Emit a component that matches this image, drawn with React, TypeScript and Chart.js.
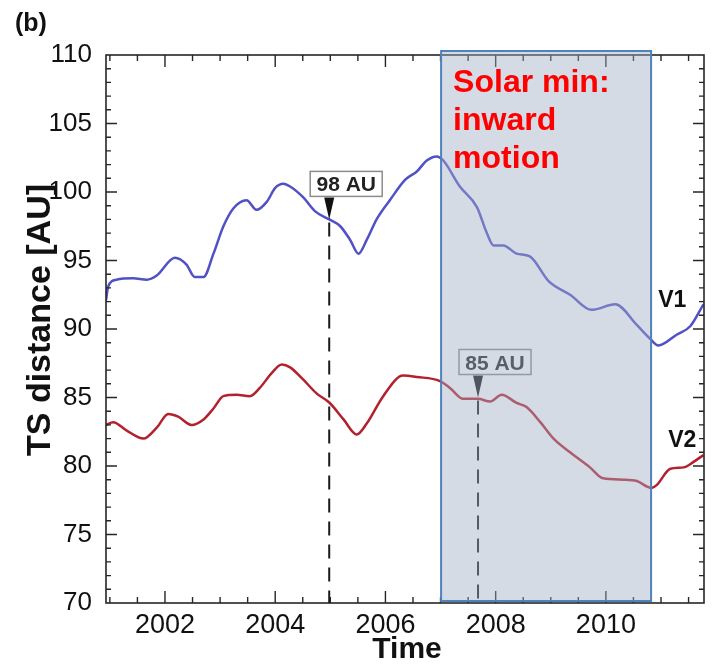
import React, { useEffect, useRef } from 'react';
import { Chart, registerables } from 'chart.js';

Chart.register(...registerables);

// Termination-shock distance of the two Voyagers (years, AU)
const v1Years = [2000.93, 2000.97, 2001.12, 2001.42, 2001.67, 2001.85, 2002.18, 2002.39, 2002.54, 2002.7, 2002.88, 2003.06, 2003.24, 2003.48, 2003.66, 2003.85, 2004.0, 2004.15, 2004.27, 2004.51, 2004.72, 2004.98, 2005.18, 2005.36, 2005.51, 2005.66, 2005.84, 2006.08, 2006.36, 2006.57, 2006.75, 2006.93, 2007.05, 2007.35, 2007.66, 2007.84, 2007.96, 2008.14, 2008.38, 2008.62, 2008.96, 2009.35, 2009.74, 2010.17, 2010.56, 2010.8, 2010.95, 2011.29, 2011.53, 2011.77];
const v1Values = [92.1, 93.1, 93.6, 93.7, 93.6, 93.9, 95.2, 94.7, 93.8, 93.8, 95.5, 97.5, 98.8, 99.4, 98.7, 99.3, 100.3, 100.6, 100.4, 99.6, 98.6, 98.0, 97.5, 96.5, 95.5, 96.5, 98.0, 99.4, 100.9, 101.5, 102.3, 102.6, 102.3, 100.4, 98.9, 97.0, 96.1, 96.1, 95.5, 95.3, 93.5, 92.5, 91.4, 91.8, 90.3, 89.3, 88.8, 89.6, 90.2, 91.8];

const v2Years = [2000.93, 2001.06, 2001.3, 2001.61, 2001.85, 2002.06, 2002.24, 2002.48, 2002.7, 2002.88, 2003.06, 2003.3, 2003.54, 2003.72, 2003.94, 2004.12, 2004.27, 2004.51, 2004.75, 2004.99, 2005.24, 2005.48, 2005.66, 2005.96, 2006.32, 2006.57, 2006.99, 2007.17, 2007.41, 2007.68, 2007.9, 2008.11, 2008.38, 2008.56, 2008.81, 2009.05, 2009.35, 2009.71, 2009.95, 2010.32, 2010.56, 2010.83, 2010.92, 2011.17, 2011.41, 2011.59, 2011.77];
const v2Values = [83.0, 83.2, 82.6, 82.0, 82.8, 83.8, 83.6, 83.0, 83.4, 84.2, 85.1, 85.2, 85.1, 85.7, 86.8, 87.4, 87.2, 86.3, 85.3, 84.6, 83.4, 82.3, 83.1, 85.1, 86.6, 86.5, 86.2, 85.7, 84.9, 84.9, 84.7, 85.2, 84.6, 84.3, 83.2, 82.0, 81.0, 79.9, 79.1, 79.0, 78.9, 78.4, 78.6, 79.8, 79.9, 80.3, 80.8];

const seriesNames = ['V1', 'V2'];
const seriesLabelYears = [2010.95, 2011.13];
const seriesLabelValues = [91.6, 81.4];

// axis
const xRange = [2000.93, 2011.78];
const yRange = [70, 110];
const xTickYears = [2002, 2004, 2006, 2008, 2010];
const yTickValues = [70, 75, 80, 85, 90, 95, 100, 105, 110];

// crossing markers
const markerYears = [2004.98, 2007.68];
const markerValues = [98, 85];
const markerLabels = ['98 AU', '85 AU'];

// solar minimum band
const solarMinSpan = [2007.01, 2010.82];
const solarMinText = ['Solar min:', 'inward', 'motion'];

const FONT = "'Liberation Sans', Arial, Helvetica, sans-serif";

const decorPlugin = {
  id: 'decor',
  afterDatasetsDraw(chart: any) {
    const { ctx, chartArea: a } = chart;
    const x = chart.scales.x;
    const y = chart.scales.y;
    ctx.save();

    // frame
    ctx.strokeStyle = '#262626';
    ctx.lineWidth = 1.6;
    ctx.strokeRect(a.left, a.top, a.right - a.left, a.bottom - a.top);

    // inward ticks, top and bottom
    ctx.lineWidth = 1.4;
    ctx.beginPath();
    for (let yr = 2001; yr <= 2011.5; yr += 0.5) {
      const px = x.getPixelForValue(yr);
      const len = yr % 2 === 0 ? 12 : 6;
      ctx.moveTo(px, a.bottom);
      ctx.lineTo(px, a.bottom - len);
      ctx.moveTo(px, a.top);
      ctx.lineTo(px, a.top + len);
    }
    // inward ticks, left and right
    for (let v = yRange[0] + 1; v < yRange[1]; v++) {
      const py = y.getPixelForValue(v);
      const len = v % 5 === 0 ? 11 : 5;
      ctx.moveTo(a.left, py);
      ctx.lineTo(a.left + len, py);
      ctx.moveTo(a.right, py);
      ctx.lineTo(a.right - len, py);
    }
    ctx.stroke();

    // markers: dashed line, pointer and boxed value
    markerYears.forEach((yr, i) => {
      const px = x.getPixelForValue(yr);
      const tip = y.getPixelForValue(markerValues[i]);
      ctx.strokeStyle = '#1a1a1a';
      ctx.lineWidth = 2;
      ctx.setLineDash([14, 9]);
      ctx.beginPath();
      ctx.moveTo(px, tip + 3);
      ctx.lineTo(px, a.bottom);
      ctx.stroke();
      ctx.setLineDash([]);

      ctx.fillStyle = '#111';
      ctx.beginPath();
      ctx.moveTo(px - 5, tip - 22);
      ctx.lineTo(px + 5, tip - 22);
      ctx.lineTo(px, tip);
      ctx.closePath();
      ctx.fill();

      const bx = px - 19;
      const by = tip - 48;
      const bw = 72;
      const bh = 25;
      ctx.fillStyle = '#fff';
      ctx.fillRect(bx, by, bw, bh);
      ctx.strokeStyle = '#8c8c8c';
      ctx.lineWidth = 1.5;
      ctx.strokeRect(bx, by, bw, bh);
      ctx.fillStyle = '#222';
      ctx.font = `bold 21px ${FONT}`;
      ctx.textAlign = 'center';
      ctx.textBaseline = 'alphabetic';
      ctx.fillText(markerLabels[i], bx + bw / 2, by + bh - 5);
    });

    // solar minimum band
    const sx0 = x.getPixelForValue(solarMinSpan[0]);
    const sx1 = x.getPixelForValue(solarMinSpan[1]);
    const sTop = a.top - 4;
    const sBot = a.bottom - 2;
    ctx.fillStyle = 'rgba(159,173,193,0.44)';
    ctx.fillRect(sx0, sTop, sx1 - sx0, sBot - sTop);
    ctx.strokeStyle = '#4f81bd';
    ctx.lineWidth = 2;
    ctx.strokeRect(sx0, sTop, sx1 - sx0, sBot - sTop);

    ctx.fillStyle = '#ff0000';
    ctx.font = `bold 32px ${FONT}`;
    ctx.textAlign = 'left';
    ctx.textBaseline = 'alphabetic';
    solarMinText.forEach((t, i) => {
      ctx.fillText(t, sx0 + 12, a.top + 37 + i * 38);
    });

    // series names
    ctx.fillStyle = '#111';
    ctx.font = `bold 23px ${FONT}`;
    seriesNames.forEach((n, i) => {
      ctx.fillText(n, x.getPixelForValue(seriesLabelYears[i]), y.getPixelForValue(seriesLabelValues[i]));
    });

    // panel letter
    ctx.font = `bold 25px ${FONT}`;
    ctx.fillText('(b)', 15, 31);

    // axis titles
    ctx.font = `bold 30px ${FONT}`;
    ctx.textAlign = 'center';
    ctx.fillText('Time', (a.left + a.right) / 2 + 2, 658);

    ctx.save();
    ctx.translate(50, 320);
    ctx.rotate(-Math.PI / 2);
    ctx.font = `bold 34px ${FONT}`;
    ctx.fillText('TS distance [AU]', 0, 0);
    ctx.restore();

    ctx.restore();
  },
};

export default function App() {
  const ref = useRef<HTMLCanvasElement>(null);

  useEffect(() => {
    const chart = new Chart(ref.current as HTMLCanvasElement, {
      type: 'line',
      data: {
        datasets: [
          {
            label: seriesNames[0],
            data: v1Years.map((yr, i) => ({ x: yr, y: v1Values[i] })),
            borderColor: '#5151c6',
            borderWidth: 2.5,
            pointRadius: 0,
            cubicInterpolationMode: 'monotone',
            fill: false,
          },
          {
            label: seriesNames[1],
            data: v2Years.map((yr, i) => ({ x: yr, y: v2Values[i] })),
            borderColor: '#b3212f',
            borderWidth: 2.5,
            pointRadius: 0,
            cubicInterpolationMode: 'monotone',
            fill: false,
          },
        ],
      },
      options: {
        animation: false,
        responsive: false,
        maintainAspectRatio: false,
        layout: { padding: { top: 55, right: 19, left: 0, bottom: 0 } },
        plugins: {
          legend: { display: false },
          tooltip: { enabled: false },
          title: { display: false },
        },
        scales: {
          x: {
            type: 'linear',
            min: xRange[0],
            max: xRange[1],
            grid: { display: false, drawTicks: false },
            border: { display: false },
            afterBuildTicks: (s: any) => {
              s.ticks = xTickYears.map((v) => ({ value: v }));
            },
            afterFit: (s: any) => {
              s.height = 63;
            },
            ticks: {
              autoSkip: false,
              maxRotation: 0,
              padding: 6,
              color: '#111',
              font: { family: FONT, size: 27 },
              callback: (v: any) => String(v),
            },
          },
          y: {
            type: 'linear',
            min: yRange[0],
            max: yRange[1],
            grid: { display: false, drawTicks: false },
            border: { display: false },
            afterBuildTicks: (s: any) => {
              s.ticks = yTickValues.map((v) => ({ value: v }));
            },
            afterFit: (s: any) => {
              s.width = 106;
            },
            ticks: {
              autoSkip: false,
              padding: 14,
              color: '#111',
              font: { family: FONT, size: 26 },
              callback: (v: any) => String(v),
            },
          },
        },
      } as any,
      plugins: [decorPlugin],
    });
    return () => chart.destroy();
  }, []);

  return (
    <div style={{ position: 'fixed', left: 0, top: 0, width: 723, height: 666, background: '#fff' }}>
      <canvas ref={ref} width={723} height={666} style={{ display: 'block' }} />
    </div>
  );
}
